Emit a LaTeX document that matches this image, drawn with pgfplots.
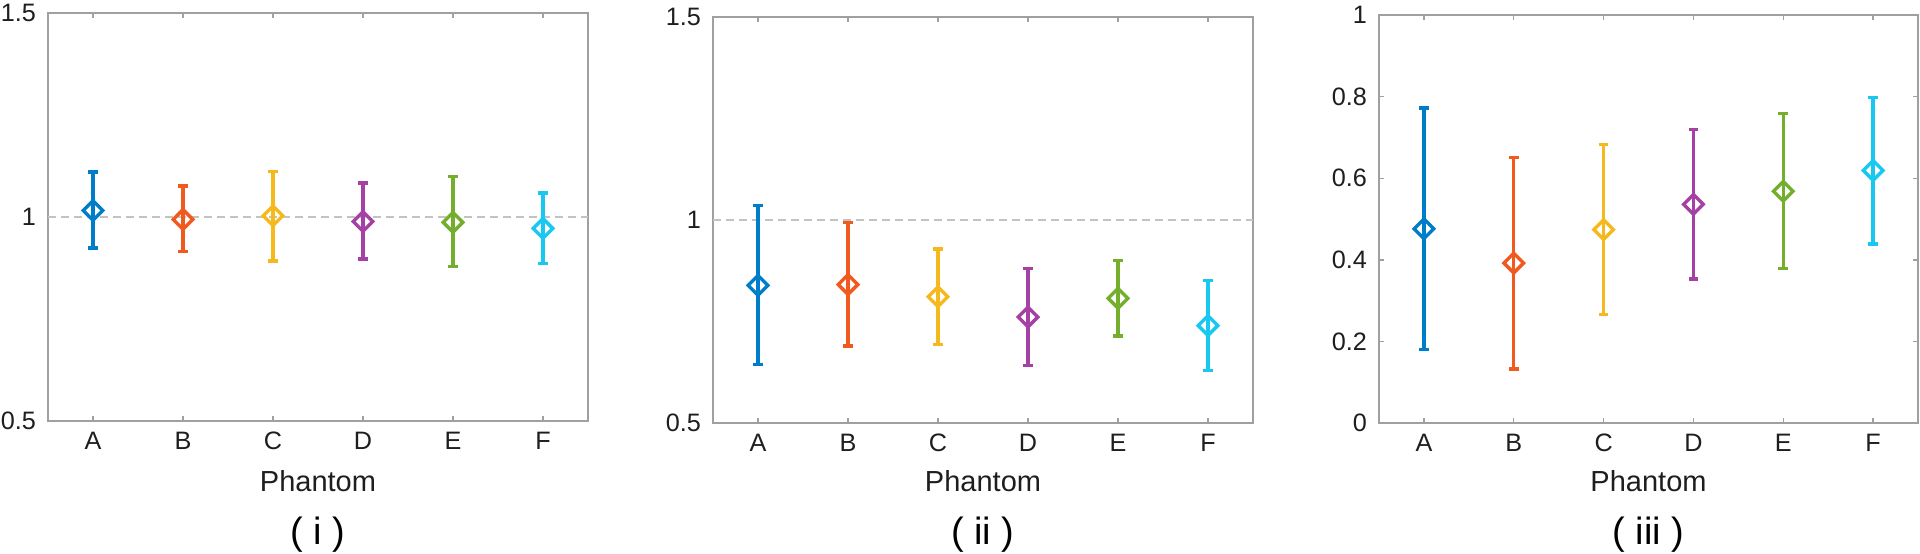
\documentclass[border=0pt]{standalone}
\usepackage{fontspec}
\setmainfont{Liberation Sans}
\usepackage{pgfplots}
\pgfplotsset{compat=1.18}
\definecolor{cA}{RGB}{0,125,200}
\definecolor{cB}{RGB}{240,90,30}
\definecolor{cC}{RGB}{245,185,30}
\definecolor{cD}{RGB}{165,65,165}
\definecolor{cE}{RGB}{115,175,45}
\definecolor{cF}{RGB}{25,200,240}
\definecolor{axgray}{RGB}{160,160,160}
\definecolor{txt}{RGB}{30,30,30}
\definecolor{dashgray}{RGB}{195,195,195}
\pgfplotsset{
  panel/.style={
    anchor=south west, scale only axis, width=270pt,
    xmin=0.5, xmax=6.5,
    xtick={1,2,3,4,5,6}, xticklabels={A,B,C,D,E,F},
    tick align=inside, xtick pos=both, ytick pos=both,
    xticklabel pos=lower, yticklabel pos=left,
    major tick length=2.5pt,
    axis line style={axgray, line width=0.8pt},
    tick style={axgray, line width=0.7pt},
    ticklabel style={font=\fontsize{12.6}{14}\selectfont, text=txt},
    yticklabel style={xshift=-2.5pt},
    xticklabel style={yshift=-2pt},
    /pgf/number format/assume math mode=true,
    clip=false,
  },
  pt/.style={only marks, mark=diamond, mark size=4.9pt, #1,
    mark options={xscale=1.333, line width=1.7pt, solid},
    error bars/.cd, y dir=both, y explicit, error mark=|,
    error bar style={line width=1.7pt, #1},
    error mark options={line width=1.7pt, mark size=2.4pt, #1}},
  refline/.style={dashgray, line width=1pt, dash pattern=on 4pt off 2.5pt},
}
\begin{document}
\begin{tikzpicture}
\useasboundingbox (0,0) rectangle (960pt,276.5pt);
% Panel (i)
\begin{axis}[panel, at={(24pt,66pt)}, height=204pt,
  ymin=0.5, ymax=1.5, ytick={0.5,1,1.5}, yticklabels={0.5,1,1.5}]
\addplot[refline] coordinates {(0.5,1) (6.5,1)};
\addplot[pt=cA] coordinates {(1,1.016) += (0,0.094) -= (0,0.092)};
\addplot[pt=cB] coordinates {(2,0.994) += (0,0.082) -= (0,0.079)};
\addplot[pt=cC] coordinates {(3,1.003) += (0,0.108) -= (0,0.111)};
\addplot[pt=cD] coordinates {(4,0.989) += (0,0.094) -= (0,0.092)};
\addplot[pt=cE] coordinates {(5,0.987) += (0,0.113) -= (0,0.109)};
\addplot[pt=cF] coordinates {(6,0.972) += (0,0.087) -= (0,0.086)};
\end{axis}
% Panel (ii)
\begin{axis}[panel, at={(356.5pt,65pt)}, height=203pt,
  ymin=0.5, ymax=1.5, ytick={0.5,1,1.5}, yticklabels={0.5,1,1.5}]
\addplot[refline] coordinates {(0.5,1) (6.5,1)};
\addplot[pt=cA] coordinates {(1,0.839) += (0,0.196) -= (0,0.195)};
\addplot[pt=cB] coordinates {(2,0.841) += (0,0.153) -= (0,0.151)};
\addplot[pt=cC] coordinates {(3,0.811) += (0,0.118) -= (0,0.117)};
\addplot[pt=cD] coordinates {(4,0.761) += (0,0.119) -= (0,0.119)};
\addplot[pt=cE] coordinates {(5,0.807) += (0,0.093) -= (0,0.093)};
\addplot[pt=cF] coordinates {(6,0.740) += (0,0.111) -= (0,0.110)};
\end{axis}
% Panel (iii)
\begin{axis}[panel, at={(689.5pt,65pt)}, width=269.5pt, height=204pt,
  ymin=0, ymax=1, ytick={0,0.2,0.4,0.6,0.8,1}, yticklabels={0,0.2,0.4,0.6,0.8,1}]
\addplot[pt=cA] coordinates {(1,0.476) += (0,0.296) -= (0,0.296)};
\addplot[pt=cB] coordinates {(2,0.392) += (0,0.259) -= (0,0.260)};
\addplot[pt=cC] coordinates {(3,0.474) += (0,0.208) -= (0,0.208)};
\addplot[pt=cD] coordinates {(4,0.536) += (0,0.184) -= (0,0.183)};
\addplot[pt=cE] coordinates {(5,0.568) += (0,0.190) -= (0,0.189)};
\addplot[pt=cF] coordinates {(6,0.619) += (0,0.179) -= (0,0.180)};
\end{axis}
% Labels
\foreach \cx/\lab in {159pt/{( i )}, 491.5pt/{( ii )}, 824.25pt/{( iii )}}{
  \node[anchor=base, text=txt, font=\fontsize{14.5}{16}\selectfont, inner sep=0pt] at (\cx,31pt) {Phantom};
  \node[anchor=base, text=black, font=\fontsize{19}{22}\selectfont, inner sep=0pt] at (\cx,4.5pt) {\lab};
}
\end{tikzpicture}
\end{document}
